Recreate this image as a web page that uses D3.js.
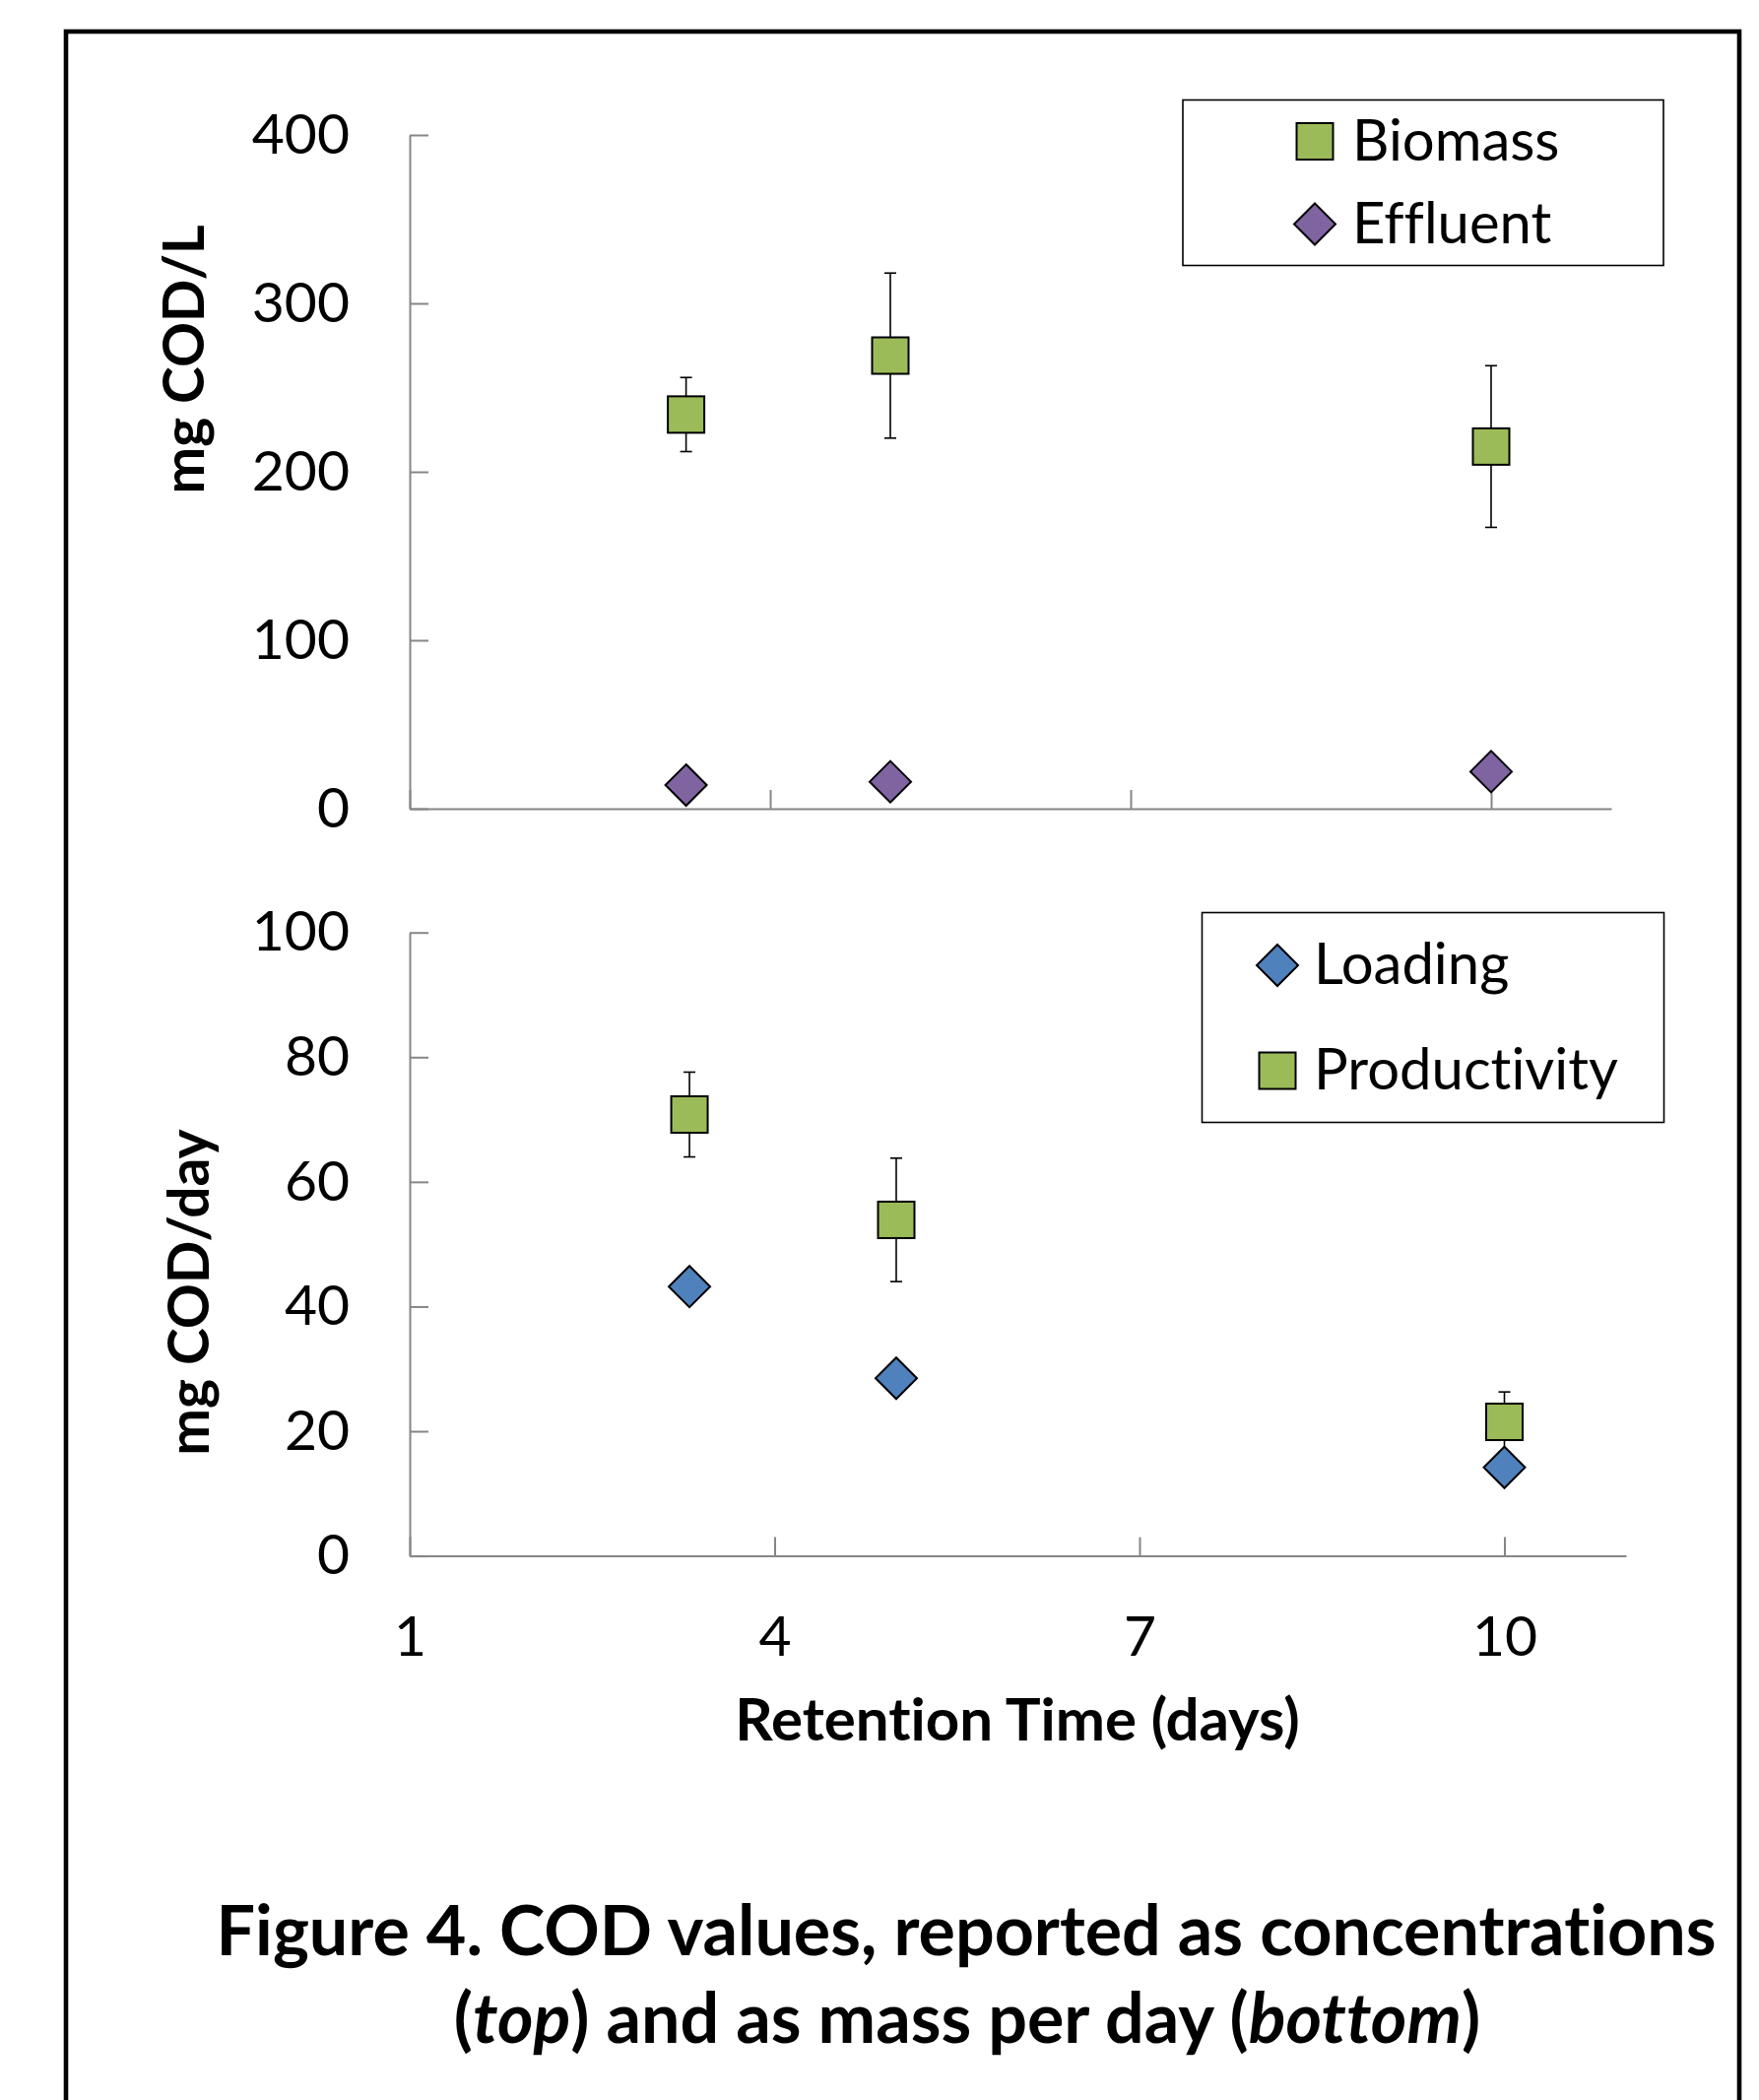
<!DOCTYPE html>
<html>
<head>
<meta charset="utf-8">
<script src="https://cdn.jsdelivr.net/npm/d3@7"></script>
<style>
  body { margin: 0; background: #fff; }
  svg { display: block; font-family: Lato, "Open Sans", sans-serif; font-variant-ligatures: none; }
  .axis path, .axis line { stroke: #868686; stroke-width: 2; }
  .axis text { fill: #000; font-size: 57px; font-family: Lato, sans-serif; }
</style>
</head>
<body>
<svg width="1786" height="2132"></svg>
<script>
// retention time (days) for each run
const days = [3.3, 5, 10]

// top panel, mg COD/L
const biomass = [234, 269, 215]
const biomassErr = [22, 49, 48]
const effluent = [14, 16, 22]

// bottom panel, mg COD/day
const loading = [43.2, 28.5, 14.2]
const productivity = [70.8, 53.9, 21.5]
const productivityErr = [6.8, 9.9, 4.8]

const xTicks = [1, 4, 7, 10]
const yTicksTop = [0, 100, 200, 300, 400]
const yTicksBottom = [0, 20, 40, 60, 80, 100]

const green = '#9BBB59'
const purple = '#8064A2'
const blue = '#4F81BD'

var svg = d3.select('svg')

// outer frame
svg.append('rect')
  .attr('x', 67).attr('y', 32)
  .attr('width', 1699).attr('height', 2200)
  .attr('fill', 'none').attr('stroke', '#000').attr('stroke-width', 4.6)

const drawDiamond = (sel, cx, cy, color) => {
  sel.append('path')
    .attr('d', 'M0,-21L21,0L0,21L-21,0Z')
    .attr('transform', `translate(${cx},${cy})`)
    .attr('fill', color).attr('stroke', '#000').attr('stroke-width', 2)
}

const drawSquare = (sel, cx, cy, color) => {
  sel.append('rect')
    .attr('x', cx - 18.5).attr('y', cy - 18.5)
    .attr('width', 37).attr('height', 37)
    .attr('fill', color).attr('stroke', '#000').attr('stroke-width', 2)
}

const panel = (opts) => {
  const g = svg.append('g')
  const x = d3.scaleLinear().domain([1, 11]).range(opts.xRange)
  const y = d3.scaleLinear().domain(opts.yDomain).range(opts.yRange)

  g.append('g').attr('class', 'axis')
    .attr('transform', `translate(0,${opts.yRange[0]})`)
    .call(d3.axisBottom(x).tickValues(xTicks).tickSizeInner(-19).tickSizeOuter(0)
      .tickPadding(61).tickFormat(opts.xLabels ? d3.format('d') : () => ''))

  g.append('g').attr('class', 'axis')
    .attr('transform', `translate(${opts.xRange[0]},0)`)
    .call(d3.axisLeft(y).tickValues(opts.yTicks).tickSizeInner(-19).tickSizeOuter(0)
      .tickPadding(61))

  // y title
  g.append('text')
    .attr('transform', `translate(${opts.titleX},${opts.titleY}) rotate(-90)`)
    .attr('text-anchor', 'middle')
    .attr('font-weight', 'bold').attr('font-size', 57)
    .text(opts.title)

  // error bars first, markers on top
  opts.series.forEach(s => {
    if (!s.err) return
    days.forEach((d, i) => {
      const cx = x(d)
      const lo = y(s.values[i] - s.err[i]), hi = y(s.values[i] + s.err[i])
      g.append('line').attr('x1', cx).attr('x2', cx).attr('y1', lo).attr('y2', hi)
        .attr('stroke', '#000').attr('stroke-width', 1.6)
      ;[lo, hi].forEach(v => {
        g.append('line').attr('x1', cx - 6).attr('x2', cx + 6).attr('y1', v).attr('y2', v)
          .attr('stroke', '#000').attr('stroke-width', 1.6)
      })
    })
  })

  opts.series.forEach(s => {
    days.forEach((d, i) => {
      if (s.shape === 'square') drawSquare(g, x(d), y(s.values[i]), s.color)
      else drawDiamond(g, x(d), y(s.values[i]), s.color)
    })
  })

  // legend
  const L = opts.legend
  g.append('rect')
    .attr('x', L.x).attr('y', L.y).attr('width', L.w).attr('height', L.h)
    .attr('fill', '#fff').attr('stroke', '#000').attr('stroke-width', 1.6)
  opts.series.forEach((s, k) => {
    const cy = L.rows[k]
    if (s.shape === 'square') drawSquare(g, L.symX, cy, s.color)
    else drawDiamond(g, L.symX, cy, s.color)
    g.append('text')
      .attr('x', L.textX).attr('y', cy + 19)
      .attr('font-size', 58)
      .text(s.name)
  })
}

panel({
  xRange: [416, 1636],
  yDomain: [0, 400], yRange: [821, 137], yTicks: yTicksTop,
  xLabels: false,
  title: 'mg COD/L', titleX: 207, titleY: 365,
  series: [
    { name: 'Biomass', values: biomass, err: biomassErr, shape: 'square', color: green },
    { name: 'Effluent', values: effluent, shape: 'diamond', color: purple }
  ],
  legend: { x: 1201, y: 101.5, w: 488, h: 168, symX: 1335, textX: 1373, rows: [143.5, 227.5] }
})

panel({
  xRange: [416, 1651],
  yDomain: [0, 100], yRange: [1579.6, 946.7], yTicks: yTicksBottom,
  xLabels: true,
  title: 'mg COD/day', titleX: 212, titleY: 1312,
  series: [
    { name: 'Loading', values: loading, shape: 'diamond', color: blue },
    { name: 'Productivity', values: productivity, err: productivityErr, shape: 'square', color: green }
  ],
  legend: { x: 1220.5, y: 926.5, w: 469, h: 213, symX: 1297, textX: 1334, rows: [980, 1087] }
})

// x title
svg.append('text')
  .attr('x', 1033).attr('y', 1767)
  .attr('text-anchor', 'middle')
  .attr('font-weight', 'bold').attr('font-size', 60)
  .text('Retention Time (days)')

// caption
var cap = svg.append('g').attr('font-weight', 'bold').attr('font-size', 70).attr('text-anchor', 'middle')
cap.append('text').attr('x', 981).attr('y', 1985)
  .text('Figure 4. COD values, reported as concentrations')
var line2 = cap.append('text').attr('x', 982).attr('y', 2074)
line2.append('tspan').text('(')
line2.append('tspan').attr('font-style', 'italic').text('top')
line2.append('tspan').text(') and as mass per day (')
line2.append('tspan').attr('font-style', 'italic').text('bottom')
line2.append('tspan').text(')')
</script>
</body>
</html>
